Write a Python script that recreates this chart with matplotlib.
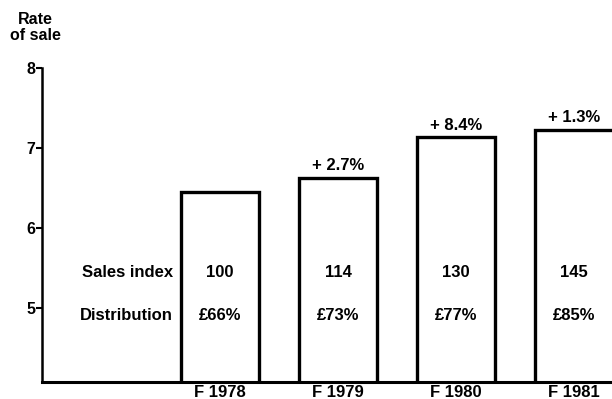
import matplotlib.pyplot as plt

plt.rcParams['font.family'] = ['Liberation Sans', 'DejaVu Sans']
plt.rcParams['font.weight'] = 'bold'

years = ["F 1978", "F 1979", "F 1980", "F 1981"]
rate_of_sale = [6.45, 6.63, 7.14, 7.23]
change = ["", "+ 2.7%", "+ 8.4%", "+ 1.3%"]
sales_index = ["100", "114", "130", "145"]
distribution = ["£66%", "£73%", "£77%", "£85%"]

fs = 12

fig = plt.figure(figsize=(6.12, 3.99), dpi=100)
ax = fig.add_axes([0.0686, 0.0426, 0.9314, 0.787])

x = list(range(len(years)))
ax.bar(x, rate_of_sale, width=0.66, bottom=0, fill=False,
       edgecolor='black', linewidth=2.4, clip_on=True)

for xi, val, ch in zip(x, rate_of_sale, change):
    if ch:
        ax.annotate(ch, (xi, val), xytext=(0, 3), textcoords='offset points',
                    ha='center', va='bottom', fontsize=fs, fontweight='bold')

# index and distribution rows written inside the bars
for xi, si, d in zip(x, sales_index, distribution):
    ax.text(xi, 5.44, si, ha='center', va='center', fontsize=fs, fontweight='bold')
    ax.text(xi, 4.91, d, ha='center', va='center', fontsize=fs, fontweight='bold')
ax.text(-0.40, 5.44, "Sales index", ha='right', va='center', fontsize=fs, fontweight='bold')
ax.text(-0.40, 4.91, "Distribution", ha='right', va='center', fontsize=fs, fontweight='bold')

ax.set_xlim(-1.508, 3.32)
ax.set_ylim(4.075, 8)
ax.set_xticks(x)
ax.set_xticklabels(years, fontsize=fs, fontweight='bold')
ax.tick_params(axis='x', length=0, pad=2)
ax.set_yticks([5, 6, 7, 8])
ax.set_yticklabels(["5", "6", "7", "8"], fontsize=11.5, fontweight='bold')
ax.tick_params(axis='y', length=4, width=1.5, pad=1)

for side in ('top', 'right'):
    ax.spines[side].set_visible(False)
ax.spines['left'].set_linewidth(1.8)
ax.spines['bottom'].set_linewidth(2.2)

fig.text(0.058, 0.97, "Rate\nof sale", ha='center', va='top', fontsize=11.5,
         fontweight='bold', linespacing=1.1)

fig.savefig("out.png", dpi=100)
